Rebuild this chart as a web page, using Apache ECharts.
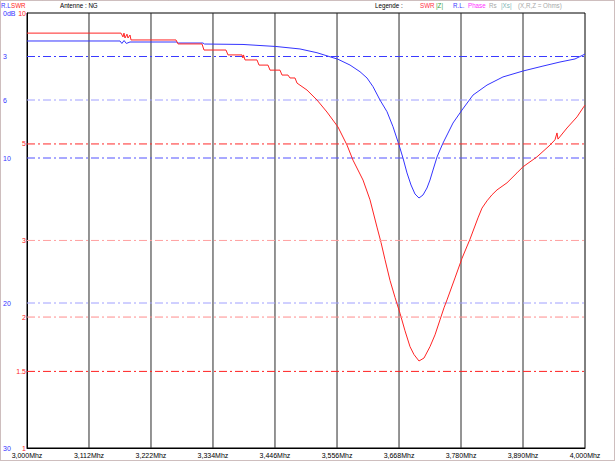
<!DOCTYPE html>
<html><head><meta charset="utf-8">
<script src="https://cdn.jsdelivr.net/npm/echarts@6/dist/echarts.min.js"></script>
<style>html,body{margin:0;padding:0;background:#fff}#c{width:615px;height:461px}</style>
</head><body><div id="c"></div>
<script>
// Frequency axis (MHz)
const xTickLabels = ['3,000Mhz','3,112Mhz','3,222Mhz','3,334Mhz','3,446Mhz','3,556Mhz','3,668Mhz','3,780Mhz','3,890Mhz','4,000Mhz'];
const xTickFreq = [3.0, 3.1111, 3.2222, 3.3333, 3.4444, 3.5556, 3.6667, 3.7778, 3.8889, 4.0];
// Y scales
const rlTicks = [0, 3, 6, 10, 20, 30];
const swrTicks = [1, 1.5, 2, 3, 5, 10];
const rlRefLines = [3, 6, 10, 20];
const swrRefLines = [1.5, 2, 3, 5];
// Return loss (dB)
const rlFreq = [3.000,3.1667,3.1700,3.1740,3.1780,3.1846,3.2688,3.2710,3.3154,3.3180,3.3871,3.4462,3.4892,3.5197,3.5573,3.5789,3.5968,3.6093,3.6201,3.6326,3.6452,3.6559,3.6667,3.6738,3.6810,3.6882,3.6953,3.7025,3.7097,3.7168,3.7222,3.7276,3.7348,3.7401,3.7455,3.7545,3.7634,3.7796,3.7993,3.8244,3.8530,3.8889,3.9247,3.9552,3.9821,3.9964,4.000];
const rlValues = [1.93,1.93,2.1,1.9,2.1,2.0,2.0,2.07,2.07,2.14,2.17,2.31,2.48,2.74,3.19,3.59,4.05,4.48,5.08,6.0,6.81,7.84,9.10,10.0,11.03,11.86,12.48,12.76,12.55,12.07,11.52,10.83,9.93,9.45,8.97,8.28,7.59,6.69,5.66,4.97,4.41,4.0,3.66,3.38,3.17,2.90,2.83];
// SWR
const swrFreq = [3.0000,3.1685,3.1720,3.1738,3.1756,3.1792,3.1810,3.1846,3.1864,3.2670,3.2706,3.3136,3.3172,3.3566,3.3602,3.3853,3.3870,3.3880,3.3907,3.4122,3.4158,3.4319,3.4355,3.4534,3.4570,3.4677,3.4713,3.4803,3.4839,3.5018,3.5197,3.5376,3.5573,3.5735,3.5842,3.6022,3.6147,3.6272,3.6344,3.6416,3.6505,3.6595,3.6685,3.6774,3.6864,3.6935,3.7025,3.7115,3.7222,3.7312,3.7401,3.7473,3.7527,3.7670,3.7796,3.7939,3.8082,3.8154,3.8244,3.8333,3.8423,3.8602,3.8781,3.8889,3.9140,3.9373,3.9462,3.9498,3.9516,3.9677,3.9857,3.9964,4.0000];
const swrValues = [8.99,8.99,8.81,8.99,8.76,8.94,8.76,8.90,8.67,8.67,8.49,8.49,8.22,8.22,8.01,8.01,7.88,8.01,7.80,7.80,7.59,7.59,7.39,7.39,7.20,7.20,7.09,7.09,6.90,6.65,6.31,5.92,5.47,4.97,4.59,4.13,3.72,3.22,2.97,2.71,2.43,2.22,2.04,1.86,1.71,1.64,1.585,1.61,1.71,1.82,1.97,2.10,2.19,2.46,2.73,3.02,3.38,3.56,3.70,3.82,3.92,4.07,4.29,4.43,4.67,4.97,5.11,5.30,5.13,5.44,5.77,6.05,6.14];

const F = "'Liberation Sans',Arial,sans-serif";
const BLUE = '#3434ff', RED = '#ff2424';
const rlColors = ['#3a3aff','#a0a0ff','#5252ff','#a0a0ff'];
const swrColors = ['#ff2020','#ff8c8c','#ffa0a0','#ff2a2a'];

const chart = echarts.init(document.getElementById('c'), null, {renderer:'svg'});

function hText(x, text, color) {
  return {type:'text', x:x, y:6, scaleX:0.78, silent:true,
    style:{text:text, fill:color, font:'8px '+F, verticalAlign:'middle', align:'left'}};
}

const x0 = xTickFreq[0], x1 = xTickFreq[xTickFreq.length-1];
const refSeries = [];
// vertical grid lines
xTickFreq.slice(1, xTickFreq.length-1).forEach((f,i)=>refSeries.push({type:'line', yAxisIndex:0, symbol:'none', silent:true, z:1,
  color:'#2a2a2a', lineStyle:{color:'#2a2a2a', type:'solid', width:1},
  data:[[f, rlTicks[0]],[f, rlTicks[rlTicks.length-1]]]}));
rlRefLines.forEach((v,i)=>refSeries.push({type:'line', yAxisIndex:0, symbol:'none', silent:true, z:2,
  color:rlColors[i], lineStyle:{color:rlColors[i], type:[8,3,2,3], width:1},
  data:[[x0, v],[x1, v]]}));
swrRefLines.forEach((v,i)=>refSeries.push({type:'line', yAxisIndex:1, symbol:'none', silent:true, z:12,
  color:swrColors[i], lineStyle:{color:swrColors[i], type:[8,3,2,3], width:1},
  data:[[x0, v],[x1, v]]}));

const option = {
  animation:false,
  backgroundColor:'#fff',
  grid:{left:27, right:30, top:13, bottom:13, show:true, borderColor:'#000', borderWidth:1, containLabel:false},
  xAxis:{type:'value', min:3, max:4,
    axisLine:{show:true, onZero:false, lineStyle:{color:'#000', width:1}},
    axisTick:{show:false}, splitLine:{show:false},
    axisLabel:{customValues:xTickFreq, margin:4, color:'#000', fontSize:7, fontFamily:F,
      formatter:function(v){let bi=0,bd=1e9;xTickFreq.forEach((f,i)=>{const d=Math.abs(f-v);if(d<bd){bd=d;bi=i;}});return xTickLabels[bi];}}
  },
  yAxis:[
    {type:'value', min:0, max:30, inverse:true, position:'left',
      axisLine:{show:true, onZero:false, lineStyle:{color:'#000'}}, axisTick:{show:false}, splitLine:{show:false},
      axisLabel:{customValues:rlTicks, margin:24, align:'left', color:BLUE, fontSize:7, fontFamily:F,
        formatter:function(v){return v===0?'0dB':String(v);}}},
    {type:'log', logBase:10, min:1, max:10, position:'left',
      axisLine:{show:false, onZero:false}, axisTick:{show:false}, splitLine:{show:false}, minorSplitLine:{show:false},
      axisLabel:{customValues:swrTicks, margin:1, align:'right', color:RED, fontSize:7, fontFamily:F,
        formatter:function(v){return String(v);}}}
  ],
  graphic:[
    {type:'rect', shape:{x:0.5,y:0.5,width:614,height:460}, silent:true,
      style:{fill:null, stroke:'#9c7c7c', lineWidth:1, lineDash:[1,1]}},
    hText(1,'R.L',BLUE), hText(11,'SWR',RED),
    hText(60,'Antenne : NG','#000'),
    hText(375,'Legende :','#000'),
    hText(420,'SWR','#ff3048'), hText(436,'|Z|','#3aa03a'), hText(453,'R.L.','#4040ff'),
    hText(468,'Phase','#ff30ff'), hText(489,'Rs','#a8a8a8'), hText(501,'|Xs|','#80b4b4'),
    hText(518,'(X,R,Z = Ohms)','#a8a8a8')
  ],
  series:refSeries.concat([
    {type:'line', name:'R.L.', xAxisIndex:0, yAxisIndex:0, symbol:'none', smooth:false,
      color:BLUE, lineStyle:{color:BLUE, width:1}, z:5,
      data:rlFreq.map((f,i)=>[f, rlValues[i]])
    },
    {type:'line', name:'SWR', xAxisIndex:0, yAxisIndex:1, symbol:'none', smooth:false,
      color:RED, lineStyle:{color:RED, width:1}, z:6,
      data:swrFreq.map((f,i)=>[f, swrValues[i]])
    }
  ])
};
chart.setOption(option);
</script></body></html>
